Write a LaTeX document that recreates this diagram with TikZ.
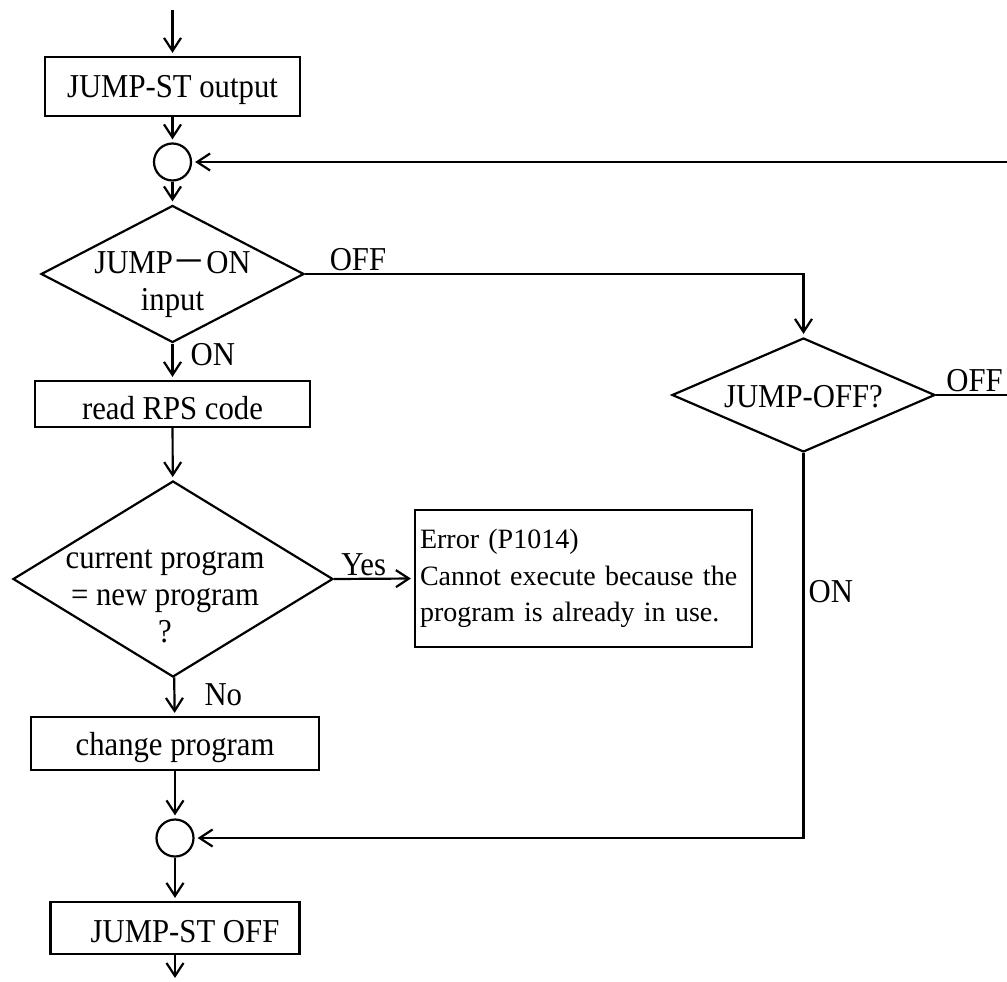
\documentclass[tikz,border=0pt]{standalone}
\usepackage{fontspec}
\setmainfont{Liberation Serif}
\newfontfamily\tallfont[FakeStretch=0.92]{Liberation Serif}
\newfontfamily\cjk{Noto Sans CJK JP}
\usepackage{tikz}
\usetikzlibrary{shapes.geometric, arrows.meta}
\tikzset{
    proc/.style={rectangle, draw=black, line width=2.2pt, inner sep=0pt, text height=23pt, text depth=0pt},
    decision/.style={diamond, draw=black, line width=2.2pt, inner sep=0pt},
    joint/.style={circle, draw=black, line width=2.2pt, inner sep=0pt, minimum size=37pt},
    note/.style={rectangle, draw=black, line width=2.2pt, align=left, inner xsep=5pt},
    flow/.style={-{Straight Barb[length=13pt, width=17pt, line width=2.2pt]}, line width=2.2pt, shorten >=3pt},
    lbl/.style={inner sep=1pt}
}

\begin{document}
\begin{tikzpicture}
  [
    x                   = 1pt,
    y                   = -1pt,
    every node/.style   = {font=\tallfont\fontsize{33.4}{37}\selectfont},
  ]
  \fill[white] (0,0) rectangle (1007,982);
  \useasboundingbox (0,0) rectangle (1007,982);

  % main column
  \coordinate (start) at (172.5,10);
  \node [proc, minimum width=255pt, minimum height=59pt, text height=21pt] (stout) at (172.5,86.5) {JUMP-ST output};
  \node [joint] (j1) at (172.5,162) {};
  \node [decision, minimum width=263pt, minimum height=137pt,
         label={[align=center, yshift=-10pt]center:{JUMP{\cjk －}ON\\input}}] (jon) at (172.5,274) {};
  \node [proc, minimum width=275pt, minimum height=46pt, text height=31pt] (rps) at (172.5,404) {read RPS code};
  \node [decision, minimum width=320pt, minimum height=196pt,
         label={[align=center, xshift=-8pt, yshift=-17.5pt]center:{current program\\= new program\\?}}] (same) at (173,579) {};
  \node [note, text width=327pt, minimum height=137pt, font=\fontsize{28}{36.5}\selectfont] (err) at (583.5,578.5)
        {Error (P1014)\\Cannot execute because the\\program is already in use.};
  \node [proc, minimum width=288pt, minimum height=53pt] (chg) at (175,743.5) {change program};
  \node [joint] (j2) at (175,838) {};
  \node [proc, minimum width=249pt, minimum height=52pt, text height=28pt] (stoff) at (175,928) {\hspace*{0.6em}JUMP-ST OFF};
  \coordinate (end) at (175,981);

  % side branch
  \node [decision, minimum width=263pt, minimum height=114pt,
         label={[yshift=-1.5pt]center:JUMP-OFF?}] (joff) at (803.5,395) {};

  \draw [flow] (start) -- (stout);
  \draw [flow] (stout) -- (j1);
  \draw [flow] (j1) -- (jon);
  \draw [flow] (jon) -- node [lbl, right=16pt, pos=0.3] {ON} (rps);
  \draw [flow] (rps) -- (same);
  \draw [flow] (same) -- node [lbl, right=28pt, pos=0.46] {No} (chg);
  \draw [flow] (same.east) -- node [lbl, above=1pt, pos=0.37] {Yes} (err.west);
  \draw [flow] (chg) -- (j2);
  \draw [flow] (j2) -- (stoff);
  \draw [flow] (stoff) -- (end);

  \draw [flow] (jon.east) -- node [lbl, above=1pt, pos=0.106] {OFF} (jon.east -| joff.north) -- (joff.north);
  \draw [flow] (joff.east) -- node [lbl, above=1pt] {OFF} ++(77,0) |- (j1.east);
  \draw [flow] (joff.south) |- node [lbl, right=3pt, pos=0.18] {ON} (j2.east);
\end{tikzpicture}
\end{document}
